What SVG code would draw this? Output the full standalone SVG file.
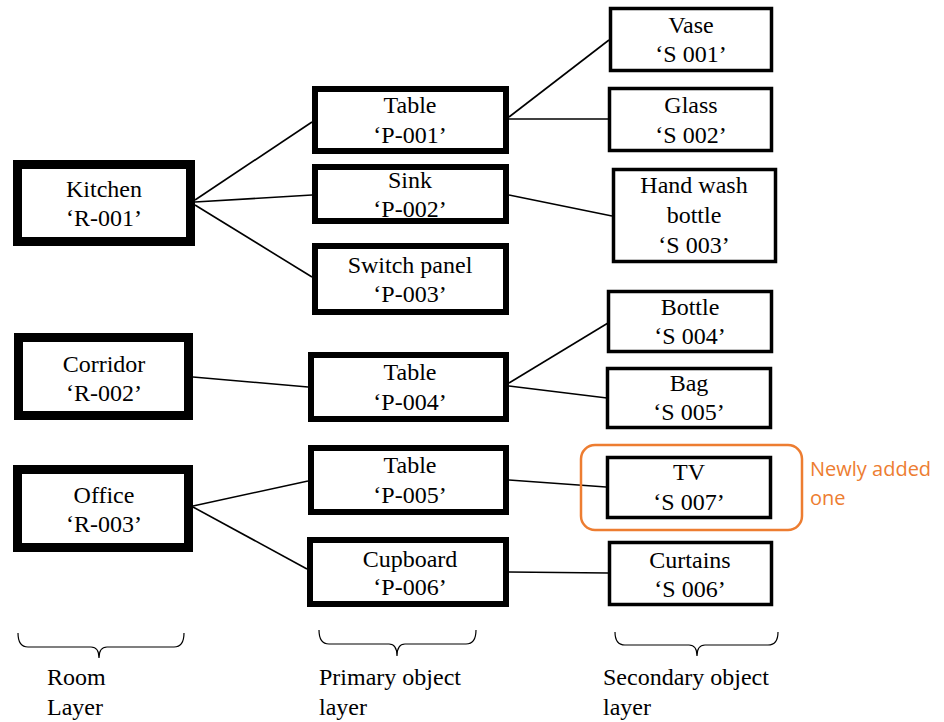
<svg xmlns="http://www.w3.org/2000/svg" width="944" height="722" viewBox="0 0 944 722">
  <style>
    .room rect { fill: #fff; stroke: #000; stroke-width: 9; }
    .prim rect { fill: #fff; stroke: #000; stroke-width: 6; }
    .sec rect { fill: #fff; stroke: #000; stroke-width: 3.5; }
    .lbl { font-size: 24px; fill: #000; text-anchor: middle; }
    .conn line { stroke: #000; stroke-width: 1.6; }
    .brace { fill: none; stroke: #000; stroke-width: 1.2; }
    .layer { text-anchor: start; }
    .note { font-size: 20px; fill: #ED7D31; }
  </style>

  <rect width="944" height="722" fill="#fff"/>

  <!-- connectors -->
  <g id="connectors" class="conn">
    <line x1="195" y1="200" x2="312" y2="122"/>
    <line x1="195" y1="202" x2="312" y2="195"/>
    <line x1="195" y1="205" x2="312" y2="277"/>
    <line x1="509" y1="117" x2="609" y2="40"/>
    <line x1="509" y1="119" x2="608" y2="119"/>
    <line x1="509" y1="195" x2="612" y2="216"/>
    <line x1="193" y1="377" x2="308" y2="387"/>
    <line x1="509" y1="383" x2="608" y2="323"/>
    <line x1="509" y1="386" x2="607" y2="398"/>
    <line x1="193" y1="506" x2="308" y2="481"/>
    <line x1="193" y1="507" x2="307" y2="569"/>
    <line x1="509" y1="480" x2="606" y2="487"/>
    <line x1="509" y1="572" x2="608" y2="573"/>
  </g>

  <g font-family="Liberation Serif, DejaVu Serif, serif">
  <!-- room layer -->
  <g id="kitchen" class="room">
    <rect x="17.5" y="164.5" width="173" height="77"/>
    <text class="lbl" x="104" y="197">Kitchen</text>
    <text class="lbl" x="104" y="226">‘R-001’</text>
  </g>
  <g id="corridor" class="room">
    <rect x="18.5" y="337.5" width="170" height="78"/>
    <text class="lbl" x="104" y="372">Corridor</text>
    <text class="lbl" x="104" y="401">‘R-002’</text>
  </g>
  <g id="office" class="room">
    <rect x="17.5" y="469.5" width="171" height="78"/>
    <text class="lbl" x="104" y="503">Office</text>
    <text class="lbl" x="104" y="532">‘R-003’</text>
  </g>

  <!-- primary object layer -->
  <g id="table-p001" class="prim">
    <rect x="315" y="89" width="191" height="62"/>
    <text class="lbl" x="410" y="113">Table</text>
    <text class="lbl" x="410" y="143">‘P-001’</text>
  </g>
  <g id="sink-p002" class="prim">
    <rect x="315" y="167" width="191" height="54"/>
    <text class="lbl" x="410" y="188">Sink</text>
    <text class="lbl" x="410" y="217">‘P-002’</text>
  </g>
  <g id="switch-p003" class="prim">
    <rect x="315" y="246" width="191" height="66"/>
    <text class="lbl" x="410" y="273">Switch panel</text>
    <text class="lbl" x="410" y="302">‘P-003’</text>
  </g>
  <g id="table-p004" class="prim">
    <rect x="311" y="355" width="195" height="64"/>
    <text class="lbl" x="410" y="380">Table</text>
    <text class="lbl" x="410" y="410">‘P-004’</text>
  </g>
  <g id="table-p005" class="prim">
    <rect x="311" y="448" width="195" height="64"/>
    <text class="lbl" x="410" y="473">Table</text>
    <text class="lbl" x="410" y="503">‘P-005’</text>
  </g>
  <g id="cupboard-p006" class="prim">
    <rect x="310" y="540" width="196" height="64"/>
    <text class="lbl" x="410" y="567">Cupboard</text>
    <text class="lbl" x="410" y="595">‘P-006’</text>
  </g>

  <!-- secondary object layer -->
  <g id="vase-s001" class="sec">
    <rect x="610.5" y="8.5" width="161" height="62"/>
    <text class="lbl" x="691" y="33">Vase</text>
    <text class="lbl" x="691" y="62">‘S 001’</text>
  </g>
  <g id="glass-s002" class="sec">
    <rect x="609.5" y="88.5" width="162" height="62"/>
    <text class="lbl" x="691" y="113">Glass</text>
    <text class="lbl" x="691" y="143">‘S 002’</text>
  </g>
  <g id="handwash-s003" class="sec">
    <rect x="613.5" y="169.5" width="162" height="92"/>
    <text class="lbl" x="694" y="193">Hand wash</text>
    <text class="lbl" x="694" y="223">bottle</text>
    <text class="lbl" x="694" y="253">‘S 003’</text>
  </g>
  <g id="bottle-s004" class="sec">
    <rect x="608.5" y="291.5" width="163" height="60"/>
    <text class="lbl" x="690" y="315">Bottle</text>
    <text class="lbl" x="690" y="344">‘S 004’</text>
  </g>
  <g id="bag-s005" class="sec">
    <rect x="607.5" y="368.5" width="163" height="59"/>
    <text class="lbl" x="689" y="391">Bag</text>
    <text class="lbl" x="689" y="420">‘S 005’</text>
  </g>
  <g id="tv-s007" class="sec">
    <rect x="607.5" y="457.5" width="163" height="60"/>
    <text class="lbl" x="689" y="480">TV</text>
    <text class="lbl" x="689" y="510">‘S 007’</text>
  </g>
  <g id="curtains-s006" class="sec">
    <rect x="609.5" y="542.5" width="162" height="62"/>
    <text class="lbl" x="690" y="568">Curtains</text>
    <text class="lbl" x="690" y="597">‘S 006’</text>
  </g>

  <!-- layer braces and labels -->
  <g id="layer-labels">
    <path class="brace" d="M18,633 Q18,647 28,647 L91,647 Q99,647 99,658 Q99,647 107,647 L174,647 Q184,647 184,633"/>
    <path class="brace" d="M319,630 Q319,644 329,644 L389,644 Q397,644 397,656 Q397,644 405,644 L466,644 Q476,644 476,630"/>
    <path class="brace" d="M615,632 Q615,645 625,645 L689,645 Q697,645 697,656 Q697,645 705,645 L768,645 Q778,645 778,632"/>
    <text class="lbl layer" x="47" y="685">Room</text>
    <text class="lbl layer" x="47" y="715">Layer</text>
    <text class="lbl layer" x="319" y="685">Primary object</text>
    <text class="lbl layer" x="319" y="715">layer</text>
    <text class="lbl layer" x="603" y="685">Secondary object</text>
    <text class="lbl layer" x="603" y="715">layer</text>
  </g>
  </g>

  <!-- highlight for the new item -->
  <g id="new-item-note" font-family="Open Sans, Liberation Sans, sans-serif">
    <rect x="581" y="445" width="221" height="85" rx="14" fill="none" stroke="#ED7D31" stroke-width="2.5"/>
    <text class="note" x="810" y="476">Newly added</text>
    <text class="note" x="810" y="505">one</text>
  </g>
</svg>
